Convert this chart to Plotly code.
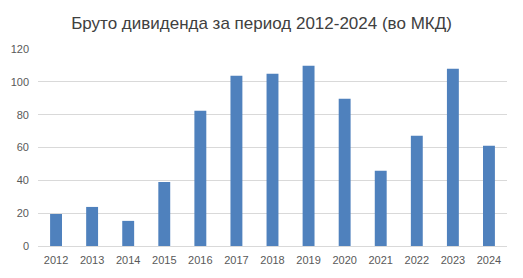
import plotly.graph_objects as go

years = ["2012", "2013", "2014", "2015", "2016", "2017", "2018", "2019", "2020", "2021", "2022", "2023", "2024"]
values = [19.5, 23.8, 15.3, 39.0, 82.4, 103.7, 104.9, 109.8, 89.7, 45.8, 67.1, 108.0, 61.0]
y_ticks = [0, 20, 40, 60, 80, 100, 120]

fig = go.Figure(go.Bar(x=years, y=values, marker_color="#4F81BD", marker_line_width=0, width=0.33))

fig.update_layout(
    width=523, height=278,
    margin=dict(l=38, r=16, t=49, b=32),
    paper_bgcolor="white", plot_bgcolor="white",
    font=dict(family="Liberation Sans, Arial, sans-serif", size=11, color="#595959"),
    title=dict(text="Бруто дивиденда за период 2012-2024 (во МКД)", x=0.5, xanchor="center",
               y=1 - 23 / 278, yanchor="middle",
               font=dict(size=17, color="#404040", family="Liberation Sans, Arial, sans-serif")),
    showlegend=False,
    bargap=0.67,
)
fig.update_yaxes(range=[0, 120], tickvals=y_ticks, showgrid=True, gridcolor="#D9D9D9", gridwidth=1,
                 zeroline=False, showline=False, ticks="", ticklabelstandoff=8)
fig.update_xaxes(showline=True, linecolor="#D9D9D9", linewidth=1, ticks="", tickangle=0, ticklabelstandoff=4)

fig.write_html("out.html")
